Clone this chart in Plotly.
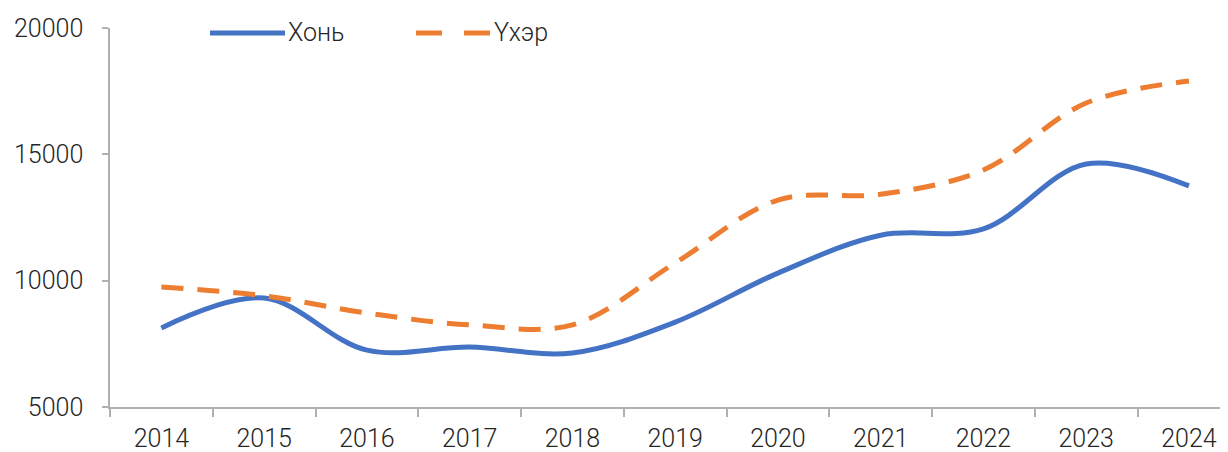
import plotly.graph_objects as go

years = ['2014', '2015', '2016', '2017', '2018', '2019', '2020', '2021', '2022', '2023', '2024']
khon = [8130, 9310, 7250, 7370, 7140, 8360, 10300, 11800, 12050, 14620, 13750]
ukher = [9750, 9400, 8720, 8250, 8250, 10700, 13190, 13420, 14380, 17030, 17900]
y_ticks = [5000, 10000, 15000, 20000]
series_names = ["Хонь", "Үхэр"]
series_colors = ["#4472C4", "#ED7D31"]

# the page body adds an 8px offset; figure sized to fill the rest of the 1228x452 window
OFF = 8
W, H = 1228 - OFF, 452 - OFF
ML, MR, MT, MB = 110 - OFF, 0, 28 - OFF, 452 - 407
PW, PH = W - ML - MR, H - MT - MB

FONT = dict(family="Roboto", size=25, color="#262626", weight=300)
AXIS_COLOR = "#b0b0b0"


def px_x(p):
    return (p - OFF - ML) / PW


def px_y(p):
    return (H - MB - (p - OFF)) / PH


fig = go.Figure()
fig.add_trace(go.Scatter(
    x=years, y=khon, name=series_names[0], mode="lines", showlegend=False,
    line=dict(color=series_colors[0], width=5, shape="spline", smoothing=1.0),
))
fig.add_trace(go.Scatter(
    x=years, y=ukher, name=series_names[1], mode="lines", showlegend=False,
    line=dict(color=series_colors[1], width=5, shape="spline", smoothing=1.0, dash="22px,14px"),
))

# legend (drawn as decoration in paper coordinates)
legend_items = [(210, 285, "solid"), (416, 491, "26px,22px")]
for (x0, x1, dash), name, color in zip(legend_items, series_names, series_colors):
    fig.add_shape(type="line", xref="paper", yref="paper",
                  x0=px_x(x0), x1=px_x(x1), y0=px_y(33), y1=px_y(33),
                  line=dict(color=color, width=5, dash=dash))
    fig.add_annotation(xref="paper", yref="paper", x=px_x(x1 + 1), y=px_y(33),
                       text=name, showarrow=False, xanchor="left", yanchor="middle",
                       font=FONT)

fig.update_layout(
    width=W, height=H,
    margin=dict(l=ML, r=MR, t=MT, b=MB, autoexpand=False),
    paper_bgcolor="white", plot_bgcolor="white",
    font=FONT,
    showlegend=False,
)
fig.update_xaxes(
    type="category", range=[-0.5, 10.38], automargin=False,
    showline=True, linecolor=AXIS_COLOR, linewidth=1.5,
    ticks="outside", tickson="boundaries", ticklen=8, tickcolor=AXIS_COLOR, tickwidth=1.5,
    ticklabelstandoff=8,
    showgrid=False, zeroline=False, tickfont=FONT,
)
fig.update_yaxes(
    range=[5000, 20000], tickvals=y_ticks, ticktext=[str(v) for v in y_ticks],
    automargin=False,
    showline=True, linecolor=AXIS_COLOR, linewidth=1.5,
    ticks="outside", ticklen=6, tickcolor=AXIS_COLOR, tickwidth=1.5,
    ticklabelstandoff=14,
    showgrid=False, zeroline=False, tickfont=FONT,
)

fig.write_html("out.html")
